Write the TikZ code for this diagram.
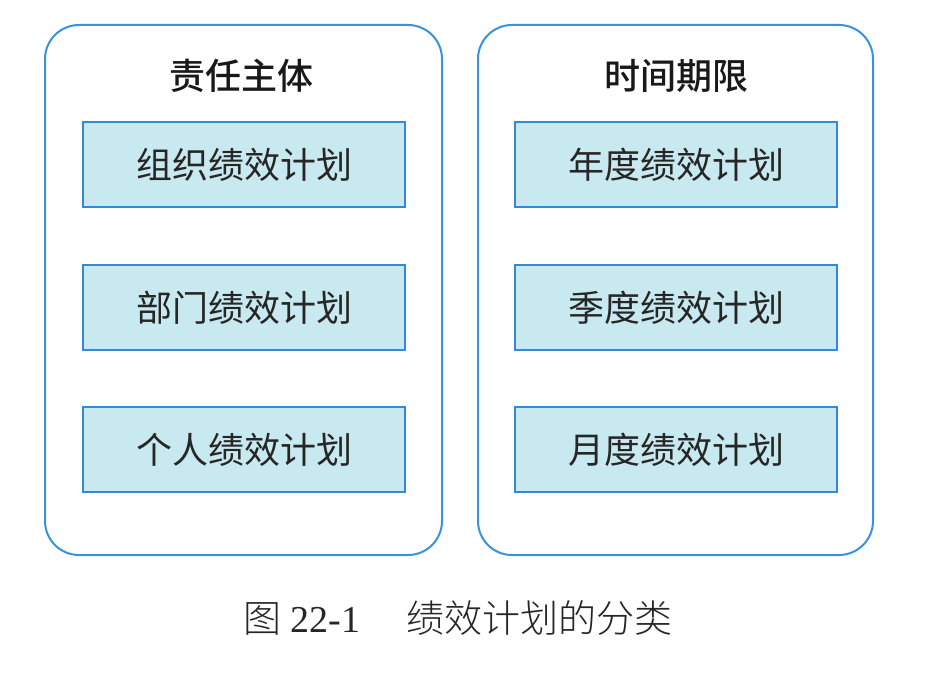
\documentclass[tikz,border=0pt]{standalone}
\usepackage{fontspec}
\setmainfont{Liberation Serif}
\newfontfamily\cjk{Noto Sans CJK SC}
\newfontfamily\cjkmed{Noto Sans CJK SC Medium}
\newfontfamily\cjklight{Noto Sans CJK SC Light}
\definecolor{outerblue}{HTML}{3A92DE}
\definecolor{innerfill}{HTML}{C9E9F0}
\definecolor{innerline}{HTML}{3589D6}
\begin{document}
\begin{tikzpicture}[x=1pt,y=-1pt,
  outerbox/.style={draw=outerblue,line width=2pt,rounded corners=34pt},
  planbox/.style={draw=innerline,fill=innerfill,line width=1.6pt,minimum width=322pt,minimum height=85pt,inner sep=0pt,font=\cjk\fontsize{36}{38}\selectfont,text=black!85},
  titletext/.style={font=\cjkmed\fontsize{36}{38}\selectfont,text=black!90}]
\useasboundingbox (0,0) rectangle (926,676);
\fill[white] (0,0) rectangle (926,676);
\draw[outerbox] (45,25) rectangle (442,555);
\draw[outerbox] (478,25) rectangle (873,555);
\node[titletext] (t1) at (241,76) {责任主体};
\node[titletext] (t2) at (676,76) {时间期限};
\node[planbox] (a1) at (244,164.5) {组织绩效计划};
\node[planbox] (a2) at (244,307.5) {部门绩效计划};
\node[planbox] (a3) at (244,449.5) {个人绩效计划};
\node[planbox] (b1) at (676,164.5) {年度绩效计划};
\node[planbox] (b2) at (676,307.5) {季度绩效计划};
\node[planbox] (b3) at (676,449.5) {月度绩效计划};
\node[font=\fontsize{38}{40}\selectfont,text=black!85] (cap) at (458,618) {{\cjklight 图}\hspace{9pt}22-1\hspace{46pt}{\cjklight 绩效计划的分类}};
\end{tikzpicture}
\end{document}
